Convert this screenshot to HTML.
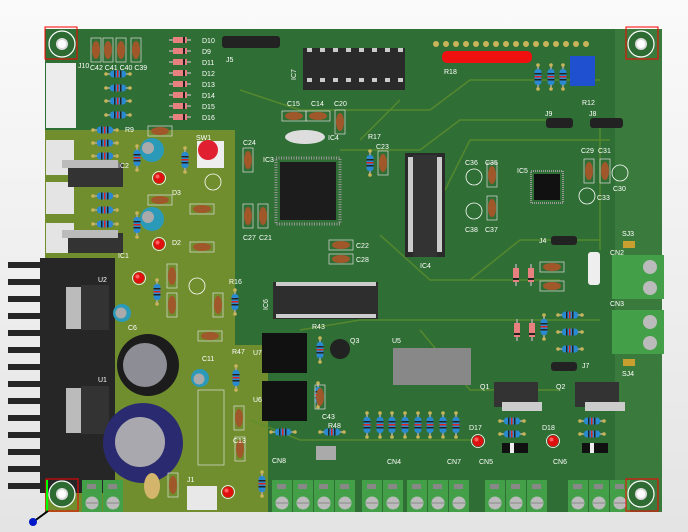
<!DOCTYPE html>
<html><head><meta charset="utf-8"><style>
html,body{margin:0;padding:0;width:688px;height:532px;overflow:hidden;background:#f1f1f1}
svg{display:block}
text{font-family:"Liberation Sans",sans-serif;font-size:7px;fill:#fff}
</style></head><body>
<svg width="688" height="532" viewBox="0 0 688 532" xmlns="http://www.w3.org/2000/svg">
<defs>
<linearGradient id="bg" x1="0" y1="0" x2="0" y2="1"><stop offset="0" stop-color="#fafafa"/><stop offset="1" stop-color="#e4e4e4"/></linearGradient>
<g id="res"><line x1="-12" y1="0" x2="12" y2="0" stroke="#aaa" stroke-width="1.5"/><rect x="-8" y="-3.5" width="16" height="7" rx="3" fill="#2a8ad0"/><rect x="-4" y="-3.5" width="1.5" height="7" fill="#222"/><rect x="-1" y="-3.5" width="1.5" height="7" fill="#d22"/><rect x="2" y="-3.5" width="1.5" height="7" fill="#222"/><circle cx="-12" cy="0" r="1.8" fill="#c9b45a"/><circle cx="12" cy="0" r="1.8" fill="#c9b45a"/></g>
<g id="resv"><use href="#res" transform="rotate(90)"/></g>
<g id="cap"><rect x="-5" y="-12" width="10" height="24" fill="none" stroke="#ddd" stroke-width=".7"/><ellipse cx="0" cy="0" rx="4" ry="9" fill="#a0582a"/></g>
<g id="caph"><use href="#cap" transform="rotate(90)"/></g>
<g id="dio"><line x1="-11" y1="0" x2="11" y2="0" stroke="#aaa" stroke-width="1.5"/><rect x="-7" y="-3" width="14" height="6" fill="#e88080"/><rect x="3" y="-3" width="2" height="6" fill="#222"/></g>
<g id="led"><circle r="6.5" fill="none" stroke="#fff" stroke-width=".8"/><circle r="5.5" fill="#e01010"/><circle cx="-1.5" cy="-1.5" r="2" fill="#ff6060"/></g>
<g id="term"><rect x="0" y="0" width="20" height="32" fill="#43a048"/><rect x="5" y="4" width="9" height="5" fill="#888"/><circle cx="10" cy="23" r="6.5" fill="#bbb"/><line x1="4" y1="23" x2="16" y2="23" stroke="#888"/></g>
<g id="hole"><circle r="13" fill="#2e6b33" stroke="#fff" stroke-width="1.2"/><circle r="6" fill="#ddd"/><circle r="4" fill="#fff"/></g>
</defs>
<rect width="688" height="532" fill="url(#bg)"/>
<!-- board -->
<rect x="45" y="29" width="617" height="483" fill="#2f6e34"/>
<rect x="615" y="29" width="47" height="483" fill="#3a7a3c"/>
<path d="M45 130 H235 V345 H268 V512 H45 Z" fill="#708e2e"/>
<!-- traces -->
<g stroke="#5f8f2e" stroke-width="1.5" fill="none" opacity=".8">
<path d="M240 90 L300 110 H430 L470 80 H600"/><path d="M340 150 H420 L460 120 H560"/><path d="M380 235 L430 280 H560"/><path d="M300 330 L360 320 H600"/><path d="M470 280 L520 240 H600"/><path d="M250 420 L300 440 H480"/><path d="M440 200 L470 140 H610"/><path d="M360 140 L400 100"/><path d="M420 330 L470 390 H560"/><path d="M600 120 V250"/>
</g>
<!-- heatsink -->
<g fill="#262626">
<rect x="40" y="258" width="75" height="235"/>
<rect x="8" y="262" width="40" height="6"/><rect x="8" y="279" width="40" height="6"/><rect x="8" y="296" width="40" height="6"/><rect x="8" y="313" width="40" height="6"/><rect x="8" y="330" width="40" height="6"/><rect x="8" y="347" width="40" height="6"/><rect x="8" y="364" width="40" height="6"/><rect x="8" y="381" width="40" height="6"/><rect x="8" y="398" width="40" height="6"/><rect x="8" y="415" width="40" height="6"/><rect x="8" y="432" width="40" height="6"/><rect x="8" y="449" width="40" height="6"/><rect x="8" y="466" width="40" height="6"/><rect x="8" y="483" width="40" height="6"/>
</g>
<rect x="66" y="287" width="15" height="42" fill="#bbb"/><rect x="81" y="285" width="28" height="45" fill="#333"/>
<rect x="66" y="388" width="15" height="45" fill="#bbb"/><rect x="81" y="386" width="28" height="48" fill="#333"/>
<text x="98" y="282">U2</text><text x="98" y="382">U1</text>
<!-- big caps -->
<circle cx="148" cy="365" r="31" fill="#1c1c1c"/><circle cx="145" cy="365" r="22" fill="#8d8d95"/>
<circle cx="143" cy="443" r="40" fill="#2a2a70"/><circle cx="140" cy="442" r="25" fill="#a8a8ae"/>
<circle cx="122" cy="313" r="9" fill="#2a9ab8"/><circle cx="121" cy="313" r="5.5" fill="#aaa"/>
<circle cx="200" cy="378" r="9" fill="#2a9ab8"/><circle cx="199" cy="379" r="5.5" fill="#aaa"/>
<circle cx="152" cy="150" r="12" fill="#2a9ab8"/><circle cx="148" cy="148" r="6" fill="#aaa"/>
<circle cx="152" cy="219" r="12" fill="#2a9ab8"/><circle cx="148" cy="217" r="6" fill="#aaa"/>
<ellipse cx="152" cy="486" rx="8" ry="13" fill="#d4b56c"/>
<!-- connectors left -->
<rect x="46" y="63" width="30" height="65" fill="#ececec"/>
<rect x="46" y="140" width="28" height="35" fill="#e4e4e4"/><rect x="46" y="182" width="28" height="32" fill="#e4e4e4"/><rect x="46" y="223" width="28" height="30" fill="#e4e4e4"/>
<rect x="68" y="163" width="55" height="24" fill="#333"/><rect x="62" y="160" width="56" height="8" fill="#bbb"/>
<rect x="68" y="233" width="55" height="20" fill="#333"/><rect x="62" y="230" width="56" height="8" fill="#bbb"/>
<text x="118" y="168">IC2</text><text x="118" y="258">IC1</text><text x="78" y="68">J10</text>
<!-- resistors left -->
<use href="#res" x="118" y="74"/><use href="#res" x="118" y="88"/><use href="#res" x="118" y="101"/><use href="#res" x="118" y="115"/>
<use href="#res" x="105" y="130"/><use href="#res" x="105" y="143"/><use href="#res" x="105" y="156"/>
<use href="#res" x="105" y="196"/><use href="#res" x="105" y="210"/><use href="#res" x="105" y="224"/>
<use href="#resv" x="137" y="158"/><use href="#resv" x="137" y="225"/><use href="#resv" x="185" y="160"/><use href="#resv" x="157" y="292"/><use href="#resv" x="235" y="302"/><use href="#resv" x="236" y="378"/><use href="#resv" x="262" y="484"/>
<use href="#resv" x="320" y="350"/><use href="#resv" x="318" y="395"/><use href="#resv" x="370" y="163"/>
<use href="#res" x="283" y="432"/><use href="#res" x="332" y="432"/>
<!-- caps top-left -->
<use href="#cap" x="96" y="50"/><use href="#cap" x="108" y="50"/><use href="#cap" x="121" y="50"/><use href="#cap" x="136" y="50"/>
<text x="90" y="70">C42 C41 C40 C39</text>
<!-- diodes -->
<use href="#dio" x="180" y="40"/><use href="#dio" x="180" y="51"/><use href="#dio" x="180" y="62"/><use href="#dio" x="180" y="73"/><use href="#dio" x="180" y="84"/><use href="#dio" x="180" y="95"/><use href="#dio" x="180" y="106"/><use href="#dio" x="180" y="117"/>
<text x="202" y="43">D10</text><text x="202" y="54">D9</text><text x="202" y="65">D11</text><text x="202" y="76">D12</text><text x="202" y="87">D13</text><text x="202" y="98">D14</text><text x="202" y="109">D15</text><text x="202" y="120">D16</text>
<!-- J5 header -->
<g fill="#222"><rect x="222" y="36" width="58" height="12" rx="3"/></g><text x="226" y="62">J5</text>
<!-- caps misc -->
<use href="#caph" x="160" y="131"/><use href="#caph" x="160" y="200"/><use href="#cap" x="172" y="276"/><use href="#cap" x="172" y="305"/><use href="#cap" x="218" y="305"/><use href="#caph" x="210" y="336"/>
<use href="#caph" x="202" y="209"/><use href="#caph" x="202" y="247"/><use href="#cap" x="248" y="160"/><use href="#cap" x="248" y="216"/><use href="#cap" x="263" y="216"/>
<use href="#caph" x="294" y="116"/><use href="#caph" x="318" y="116"/><use href="#cap" x="340" y="122"/><use href="#cap" x="383" y="163"/>
<use href="#caph" x="341" y="245"/><use href="#caph" x="341" y="259"/><use href="#cap" x="320" y="397"/><use href="#cap" x="239" y="418"/><use href="#cap" x="240" y="449"/><use href="#cap" x="173" y="485"/>
<use href="#cap" x="492" y="175"/><use href="#cap" x="492" y="208"/><use href="#cap" x="589" y="171"/><use href="#cap" x="605" y="171"/>
<use href="#caph" x="552" y="267"/><use href="#caph" x="552" y="286"/>
<!-- LEDs -->
<use href="#led" x="159" y="178"/><use href="#led" x="159" y="244"/><use href="#led" x="139" y="278"/><use href="#led" x="228" y="492"/><use href="#led" x="478" y="441"/><use href="#led" x="553" y="441"/>
<!-- switch -->
<rect x="197" y="141" width="27" height="27" fill="#eee"/><circle cx="208" cy="150" r="10" fill="#e02030"/><text x="196" y="140">SW1</text>
<!-- ICs -->
<rect x="303" y="48" width="102" height="42" fill="#2a2a2a"/>
<g fill="#ccc"><rect x="307" y="48" width="5" height="4"/><rect x="320" y="48" width="5" height="4"/><rect x="333" y="48" width="5" height="4"/><rect x="346" y="48" width="5" height="4"/><rect x="359" y="48" width="5" height="4"/><rect x="372" y="48" width="5" height="4"/><rect x="385" y="48" width="5" height="4"/><rect x="398" y="48" width="5" height="4"/><rect x="307" y="78" width="5" height="4"/><rect x="320" y="78" width="5" height="4"/><rect x="333" y="78" width="5" height="4"/><rect x="346" y="78" width="5" height="4"/><rect x="359" y="78" width="5" height="4"/><rect x="372" y="78" width="5" height="4"/><rect x="385" y="78" width="5" height="4"/><rect x="398" y="78" width="5" height="4"/></g>
<text x="296" y="80" transform="rotate(-90 296 80)">IC7</text>
<ellipse cx="305" cy="137" rx="20" ry="7" fill="#ddd"/><text x="328" y="140">IC4</text>
<rect x="276" y="158" width="64" height="66" fill="none" stroke="#999" stroke-dasharray="1 1.5" stroke-width="3"/>
<rect x="280" y="162" width="56" height="58" fill="#1c1c1c"/><text x="263" y="162">IC3</text>
<rect x="405" y="153" width="40" height="104" fill="#2a2a2a"/>
<g fill="#ccc"><rect x="408" y="157" width="5" height="95"/><rect x="437" y="157" width="5" height="95"/></g>
<rect x="413" y="155" width="24" height="102" fill="#333"/><text x="420" y="268">IC4</text>
<rect x="273" y="282" width="105" height="37" fill="#2e2e2e"/>
<g fill="#ccc"><rect x="276" y="282" width="100" height="4"/><rect x="276" y="314" width="100" height="4"/></g>
<text x="268" y="310" transform="rotate(-90 268 310)">IC6</text>
<rect x="393" y="348" width="78" height="37" fill="#888"/><text x="392" y="343">U5</text>
<rect x="262" y="333" width="45" height="40" fill="#111"/><rect x="262" y="381" width="45" height="40" fill="#111"/><text x="253" y="355">U7</text><text x="253" y="402">U6</text>
<circle cx="340" cy="349" r="10" fill="#222"/><text x="350" y="343">Q3</text>
<rect x="531" y="171" width="32" height="32" fill="none" stroke="#999" stroke-width="2" stroke-dasharray="1 1"/><rect x="534" y="174" width="26" height="26" fill="#111"/><text x="517" y="173">IC5</text>
<!-- R18, header -->
<g fill="#c9b45a"><circle cx="436" cy="44" r="3"/><circle cx="446" cy="44" r="3"/><circle cx="456" cy="44" r="3"/><circle cx="466" cy="44" r="3"/><circle cx="476" cy="44" r="3"/><circle cx="486" cy="44" r="3"/><circle cx="496" cy="44" r="3"/><circle cx="506" cy="44" r="3"/><circle cx="516" cy="44" r="3"/><circle cx="526" cy="44" r="3"/><circle cx="536" cy="44" r="3"/><circle cx="546" cy="44" r="3"/><circle cx="556" cy="44" r="3"/><circle cx="566" cy="44" r="3"/><circle cx="576" cy="44" r="3"/><circle cx="586" cy="44" r="3"/></g>
<rect x="442" y="51" width="90" height="12" rx="5" fill="#f01010"/><text x="444" y="74">R18</text>
<use href="#resv" x="538" y="77"/><use href="#resv" x="551" y="77"/><use href="#resv" x="563" y="77"/>
<rect x="570" y="56" width="25" height="30" fill="#1f50d0"/><text x="582" y="105">R12</text>
<rect x="546" y="118" width="27" height="10" rx="3" fill="#222"/><rect x="590" y="118" width="33" height="10" rx="3" fill="#222"/><text x="545" y="116">J9</text><text x="589" y="116">J8</text>
<rect x="551" y="236" width="26" height="9" rx="3" fill="#222"/><text x="539" y="243">J4</text>
<rect x="551" y="362" width="26" height="9" rx="3" fill="#222"/><text x="582" y="368">J7</text>
<rect x="588" y="252" width="12" height="33" fill="#eee" rx="3"/>
<use href="#res" x="570" y="315"/><use href="#res" x="570" y="332"/><use href="#res" x="570" y="349"/><use href="#resv" x="544" y="327"/>
<use href="#dio" x="516" y="275" transform="rotate(90 516 275)"/><use href="#dio" x="531" y="275" transform="rotate(90 531 275)"/><use href="#dio" x="517" y="330" transform="rotate(90 517 330)"/><use href="#dio" x="532" y="330" transform="rotate(90 532 330)"/>
<rect x="623" y="241" width="12" height="7" fill="#c9a030"/><rect x="623" y="359" width="12" height="7" fill="#c9a030"/>
<!-- transistors Q1 Q2 -->
<rect x="494" y="382" width="44" height="25" fill="#333"/><rect x="502" y="402" width="40" height="9" fill="#ccc"/>
<rect x="575" y="382" width="44" height="25" fill="#333"/><rect x="585" y="402" width="40" height="9" fill="#ccc"/>
<text x="480" y="389">Q1</text><text x="556" y="389">Q2</text>
<use href="#res" x="512" y="421"/><use href="#res" x="512" y="434"/><use href="#res" x="592" y="421"/><use href="#res" x="592" y="434"/>
<rect x="502" y="443" width="26" height="10" fill="#111"/><rect x="510" y="443" width="4" height="10" fill="#eee"/>
<rect x="582" y="443" width="26" height="10" fill="#111"/><rect x="590" y="443" width="4" height="10" fill="#eee"/>
<!-- resistor bank -->
<use href="#resv" x="367" y="425"/><use href="#resv" x="380" y="425"/><use href="#resv" x="392" y="425"/><use href="#resv" x="405" y="425"/><use href="#resv" x="418" y="425"/><use href="#resv" x="430" y="425"/><use href="#resv" x="443" y="425"/><use href="#resv" x="456" y="425"/>
<rect x="316" y="446" width="20" height="14" fill="#aaa"/>
<!-- small polarized caps -->
<g fill="none" stroke="#fff" stroke-width=".8"><circle cx="213" cy="182" r="8"/><circle cx="474" cy="177" r="8"/><circle cx="474" cy="211" r="8"/><circle cx="587" cy="196" r="8"/><circle cx="620" cy="173" r="8"/><circle cx="197" cy="286" r="8"/></g>
<rect x="198" y="390" width="26" height="75" fill="none" stroke="#ddd" stroke-width=".7"/>
<rect x="187" y="486" width="30" height="24" fill="#e8e8e8"/><text x="187" y="482">J1</text>
<!-- terminal blocks -->
<use href="#term" x="82" y="480"/><use href="#term" x="103" y="480"/>
<use href="#term" x="272" y="480"/><use href="#term" x="293" y="480"/><use href="#term" x="314" y="480"/><use href="#term" x="335" y="480"/>
<use href="#term" x="362" y="480"/><use href="#term" x="383" y="480"/><use href="#term" x="407" y="480"/><use href="#term" x="428" y="480"/><use href="#term" x="449" y="480"/>
<use href="#term" x="485" y="480"/><use href="#term" x="506" y="480"/><use href="#term" x="527" y="480"/>
<use href="#term" x="568" y="480"/><use href="#term" x="589" y="480"/><use href="#term" x="610" y="480"/>
<rect x="612" y="255" width="52" height="44" fill="#43a048"/><circle cx="650" cy="267" r="7" fill="#bbb"/><circle cx="650" cy="288" r="7" fill="#bbb"/>
<rect x="612" y="310" width="52" height="44" fill="#43a048"/><circle cx="650" cy="322" r="7" fill="#bbb"/><circle cx="650" cy="343" r="7" fill="#bbb"/>
<text x="272" y="463">CN8</text><text x="387" y="464">CN4</text><text x="447" y="464">CN7</text><text x="479" y="464">CN5</text><text x="553" y="464">CN6</text><text x="610" y="255">CN2</text><text x="610" y="306">CN3</text>
<text x="125" y="132">R9</text><text x="172" y="195">D3</text><text x="172" y="245">D2</text><text x="128" y="330">C6</text><text x="202" y="361">C11</text><text x="232" y="354">R47</text><text x="229" y="284">R16</text><text x="312" y="329">R43</text><text x="368" y="139">R17</text><text x="328" y="428">R48</text><text x="322" y="419">C43</text><text x="233" y="443">C13</text>
<text x="465" y="165">C36</text><text x="485" y="165">C35</text><text x="465" y="232">C38</text><text x="485" y="232">C37</text><text x="581" y="153">C29</text><text x="598" y="153">C31</text><text x="597" y="200">C33</text><text x="613" y="191">C30</text><text x="622" y="236">SJ3</text><text x="622" y="376">SJ4</text><text x="356" y="248">C22</text><text x="356" y="262">C28</text><text x="243" y="145">C24</text><text x="243" y="240">C27</text><text x="259" y="240">C21</text><text x="287" y="106">C15</text><text x="311" y="106">C14</text><text x="334" y="106">C20</text><text x="376" y="149">C23</text><text x="469" y="430">D17</text><text x="542" y="430">D18</text>
<!-- mounting holes -->
<use href="#hole" x="62" y="44"/><use href="#hole" x="641" y="44"/><use href="#hole" x="62" y="494"/><use href="#hole" x="641" y="494"/>
<g fill="none" stroke="#f00" stroke-width="1"><rect x="45" y="27" width="32" height="32"/><rect x="626" y="27" width="32" height="32"/><rect x="46" y="479" width="32" height="32"/><rect x="626" y="479" width="32" height="32"/></g>
<line x1="47" y1="480" x2="47" y2="511" stroke="#0f0" stroke-width="2"/>
<line x1="33" y1="522" x2="48" y2="511" stroke="#000" stroke-width="2"/><circle cx="33" cy="522" r="4" fill="#0018c8"/>
</svg>
</body></html>
